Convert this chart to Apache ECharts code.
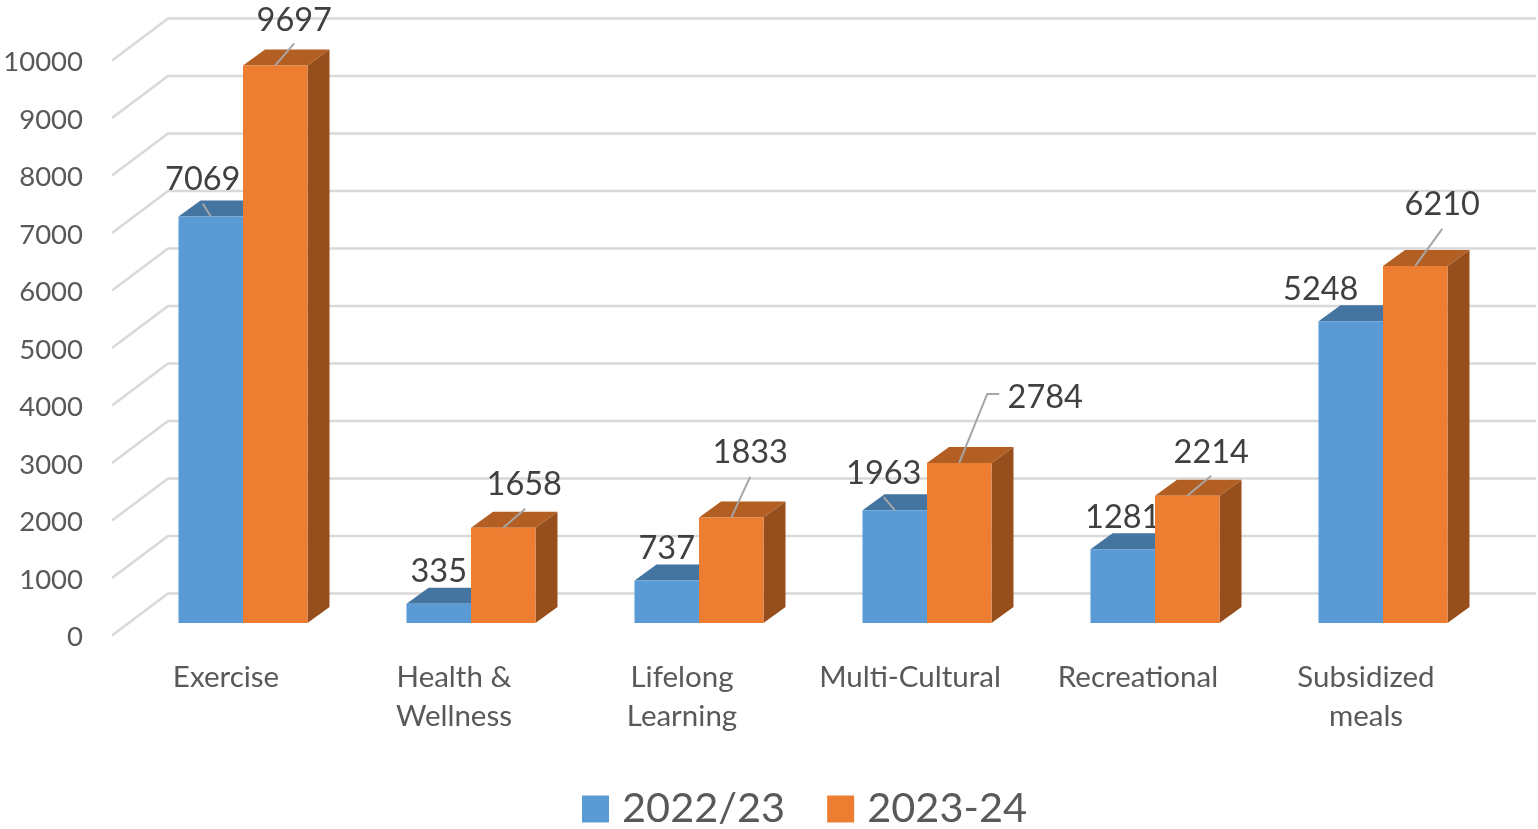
<!DOCTYPE html>
<html>
<head>
<meta charset="utf-8">
<style>
  html, body { margin: 0; padding: 0; background: #fff; }
  #chart { width: 1538px; height: 829px; }
</style>
<script src="https://cdn.jsdelivr.net/npm/echarts@6/dist/echarts.min.js"></script>
</head>
<body>
<div id="chart"></div>
<script>
const categories = ['Exercise', 'Health &\nWellness', 'Lifelong\nLearning', 'Multi-Cultural', 'Recreational', 'Subsidized\nmeals'];
const values2022 = [7069, 335, 737, 1963, 1281, 5248];
const values2023 = [9697, 1658, 1833, 2784, 2214, 6210];
const yTicks = [0, 1000, 2000, 3000, 4000, 5000, 6000, 7000, 8000, 9000, 10000];

// label centre relative to the middle of the bar's front top edge, then the leader line bends
const labels2022 = [
    { dx: -8, dy: -37, line: [[-8, -13]] },
    { dx: 0, dy: -32 },
    { dx: 0, dy: -32 },
    { dx: -11, dy: -37, line: [[-11, -13]] },
    { dx: 0, dy: -32 },
    { dx: -30, dy: -32 }
];
const labels2023 = [
    { dx: 19, dy: -45, line: [[19, -22]] },
    { dx: 21, dy: -43, line: [[22, -19]] },
    { dx: 19, dy: -65, line: [[19, -41]] },
    { dx: 86, dy: -65, line: [[28, -69], [40, -69]] },
    { dx: 24, dy: -43, line: [[24, -20]] },
    { dx: 27, dy: -61, line: [[27, -37]] }
];

const BAR_W = 64.5;
const DEPTH_X = 22, DEPTH_Y = 16;
const BAR_SHIFT_X = 17, BAR_SHIFT_Y = -12.5;  // bars stand a little behind the axis plane
const WALL_X = 56, WALL_Y = 42;

function wallRender(params, api) {
    const cs = params.coordSys;
    const p = api.coord([0, api.value(0)]);
    return {
        type: 'polyline',
        shape: { points: [[cs.x, p[1]], [cs.x + WALL_X, p[1] - WALL_Y], [cs.x + cs.width + WALL_X, p[1] - WALL_Y]] },
        style: { stroke: '#d9d9d9', lineWidth: 2.5, fill: null }
    };
}

function barRender(side, front, top, dark, labels) {
    return function (params, api) {
        const i = api.value(0);
        const v = api.value(1);
        const t = api.coord([i, v]);
        const b = api.coord([i, 0]);
        const x0 = t[0] + BAR_SHIFT_X + (side < 0 ? -BAR_W : 0);
        const x1 = x0 + BAR_W;
        const y0 = t[1] + BAR_SHIFT_Y;
        const y1 = b[1] + BAR_SHIFT_Y;
        const children = [
            { type: 'polygon', shape: { points: [[x1, y0], [x1 + DEPTH_X, y0 - DEPTH_Y], [x1 + DEPTH_X, y1 - DEPTH_Y], [x1, y1]] }, style: { fill: dark } },
            { type: 'polygon', shape: { points: [[x0, y0], [x0 + DEPTH_X, y0 - DEPTH_Y], [x1 + DEPTH_X, y0 - DEPTH_Y], [x1, y0]] }, style: { fill: top } },
            { type: 'rect', shape: { x: x0, y: y0, width: BAR_W, height: y1 - y0 }, style: { fill: front } }
        ];
        const cx = x0 + BAR_W / 2;
        const lab = labels[params.dataIndex];
        if (lab.line) {
            const pts = [[cx, y0]].concat(lab.line.map(d => [cx + d[0], y0 + d[1]]));
            children.push({ type: 'polyline', z2: 50, shape: { points: pts }, style: { stroke: '#a6a6a6', lineWidth: 2, fill: null } });
        }
        children.push({
            type: 'text', z2: 60,
            style: {
                x: cx + lab.dx, y: y0 + lab.dy, text: String(v),
                font: '32.5px Lato', fill: '#404040', align: 'center', verticalAlign: 'middle'
            }
        });
        return { type: 'group', children: children };
    };
}

const chart = echarts.init(document.getElementById('chart'), null, { renderer: 'canvas' });
chart.setOption({
    backgroundColor: '#fff',
    animation: false,
    textStyle: { fontFamily: 'Lato' },
    legend: {
        data: ['2022/23', '2023-24'],
        left: 577,
        top: 783,
        icon: 'rect',
        itemWidth: 27,
        itemHeight: 27,
        itemGap: 42,
        textStyle: { fontSize: 41.5, color: '#595959', fontFamily: 'Lato', padding: [0, 0, 0, 8] }
    },
    grid: { left: 112, top: 60.5, width: 1368, height: 575, outerBoundsMode: 'none' },
    xAxis: {
        type: 'category',
        data: categories,
        axisLine: { show: false },
        axisTick: { show: false },
        axisLabel: { fontSize: 29.5, color: '#595959', fontFamily: 'Lato', lineHeight: 39, margin: 22, interval: 0 }
    },
    yAxis: {
        type: 'value',
        min: 0,
        max: 10000,
        interval: 1000,
        axisLine: { show: false },
        axisTick: { show: false },
        splitLine: { show: false },
        // top-aligned with a small line box drops the digits about 2px below the tick
        axisLabel: { fontSize: 27.5, color: '#595959', fontFamily: 'Lato', margin: 29, verticalAlign: 'top', lineHeight: 4, formatter: v => String(v) }
    },
    series: [
        {
            type: 'custom', name: 'wall', clip: false, silent: true, z: 1,
            data: yTicks.map(t => [t]),
            encode: { y: 0 },
            renderItem: wallRender
        },
        {
            type: 'custom', name: '2022/23', clip: false, z: 2,
            itemStyle: { color: '#5b9bd5' },
            data: values2022.map((v, i) => [i, v]),
            encode: { x: 0, y: 1 },
            renderItem: barRender(-1, '#5b9bd5', '#4475a1', '#3d6a91', labels2022)
        },
        {
            type: 'custom', name: '2023-24', clip: false, z: 3,
            itemStyle: { color: '#ed7d31' },
            data: values2023.map((v, i) => [i, v]),
            encode: { x: 0, y: 1 },
            renderItem: barRender(1, '#ed7d31', '#b35f23', '#964f1c', labels2023)
        }
    ]
});
</script>
</body>
</html>
